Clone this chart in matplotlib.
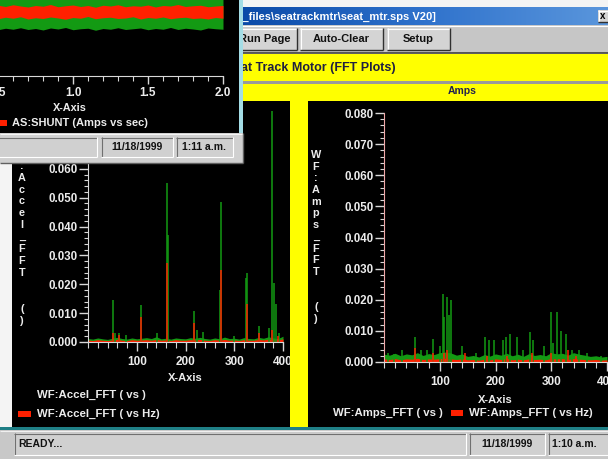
import matplotlib
matplotlib.use("Agg")
import matplotlib.pyplot as plt
from matplotlib.patches import Rectangle
from matplotlib.ticker import MultipleLocator, FixedLocator, FormatStrFormatter
from matplotlib.colors import LinearSegmentedColormap
import numpy as np

plt.rcParams['font.family'] = ['Liberation Sans', 'DejaVu Sans']
plt.rcParams['font.weight'] = 'bold'

# ---------------- data ----------------
# top-left window: AS:SHUNT (Amps vs sec) band envelopes
shunt_t = [0.50, 0.55, 0.60, 0.65, 0.70, 0.75, 0.80, 0.85, 0.90, 0.95, 1.00,
           1.05, 1.10, 1.15, 1.20, 1.25, 1.30, 1.35, 1.40, 1.45, 1.50, 1.55,
           1.60, 1.65, 1.70, 1.75, 1.80, 1.85, 1.90, 1.95, 2.00]
shunt_green_hi = [2.6] * 31
shunt_green_lo = [-0.30, -0.18, -0.26, -0.14, -0.28, -0.20, -0.32, -0.16, -0.24, -0.12,
                  -0.30, -0.22, -0.18, -0.34, -0.20, -0.26, -0.14, -0.28, -0.22, -0.16,
                  -0.30, -0.20, -0.26, -0.12, -0.28, -0.18, -0.24, -0.32, -0.16, -0.22, -0.26]
shunt_red_lo = [0.58, 0.70, 0.62, 0.74, 0.56, 0.66, 0.60, 0.72, 0.64, 0.54, 0.68,
                0.62, 0.76, 0.58, 0.66, 0.70, 0.60, 0.64, 0.74, 0.56, 0.68, 0.62,
                0.72, 0.58, 0.66, 0.70, 0.60, 0.64, 0.56, 0.68, 0.62]
shunt_red_hi = [1.66, 1.56, 1.70, 1.60, 1.52, 1.64, 1.58, 1.72, 1.54, 1.62, 1.68,
                1.56, 1.64, 1.50, 1.66, 1.60, 1.70, 1.54, 1.62, 1.58, 1.68, 1.52,
                1.64, 1.60, 1.72, 1.56, 1.62, 1.66, 1.54, 1.60, 1.64]
shunt_xticks = [0.5, 1.0, 1.5, 2.0]

# FFT noise floors (every 10 Hz)
floor_hz = [0, 10, 20, 30, 40, 50, 60, 70, 80, 90, 100, 110, 120, 130, 140, 150, 160,
            170, 180, 190, 200, 210, 220, 230, 240, 250, 260, 270, 280, 290, 300, 310,
            320, 330, 340, 350, 360, 370, 380, 390, 400]
accel_green_floor = [0.0012, 0.0010, 0.0014, 0.0011, 0.0009, 0.0013, 0.0016, 0.0012, 0.0010,
                     0.0014, 0.0011, 0.0013, 0.0015, 0.0012, 0.0018, 0.0011, 0.0013, 0.0010,
                     0.0014, 0.0012, 0.0011, 0.0015, 0.0013, 0.0016, 0.0012, 0.0010, 0.0014,
                     0.0011, 0.0017, 0.0012, 0.0013, 0.0010, 0.0015, 0.0012, 0.0011, 0.0016,
                     0.0013, 0.0018, 0.0014, 0.0012, 0.0020]
accel_red_floor = [0.0007, 0.0005, 0.0008, 0.0006, 0.0005, 0.0007, 0.0009, 0.0006, 0.0005,
                   0.0008, 0.0006, 0.0007, 0.0008, 0.0006, 0.0009, 0.0006, 0.0007, 0.0005,
                   0.0008, 0.0006, 0.0006, 0.0008, 0.0007, 0.0009, 0.0006, 0.0005, 0.0008,
                   0.0006, 0.0009, 0.0006, 0.0007, 0.0005, 0.0008, 0.0006, 0.0006, 0.0009,
                   0.0007, 0.0010, 0.0008, 0.0007, 0.0011]
accel_green_spike_hz = [51, 56, 64, 78, 108, 141, 162, 164, 217, 224, 236, 270, 272, 300,
                        324, 327, 351, 372, 377, 382, 386, 392]
accel_green_spike_val = [0.0146, 0.0030, 0.0030, 0.0025, 0.0128, 0.0032, 0.0552, 0.0370,
                         0.0108, 0.0040, 0.0035, 0.0180, 0.0486, 0.0020, 0.0220, 0.0240,
                         0.0055, 0.0050, 0.0850, 0.0205, 0.0130, 0.0030]
accel_red_spike_hz = [51, 64, 108, 162, 217, 272, 327, 351, 378, 390]
accel_red_spike_val = [0.0030, 0.0025, 0.0087, 0.0274, 0.0066, 0.0250, 0.0130, 0.0030,
                       0.0040, 0.0020]

amps_green_floor = [0.0025, 0.0022, 0.0028, 0.0020, 0.0026, 0.0023, 0.0030, 0.0021, 0.0027,
                    0.0024, 0.0030, 0.0032, 0.0029, 0.0022, 0.0026, 0.0018, 0.0021, 0.0016,
                    0.0024, 0.0019, 0.0026, 0.0022, 0.0028, 0.0020, 0.0025, 0.0018, 0.0027,
                    0.0021, 0.0024, 0.0020, 0.0030, 0.0026, 0.0028, 0.0022, 0.0030, 0.0025,
                    0.0022, 0.0018, 0.0020, 0.0016, 0.0018]
amps_red_floor = [0.0010, 0.0008, 0.0011, 0.0007, 0.0010, 0.0009, 0.0012, 0.0008, 0.0010,
                  0.0009, 0.0011, 0.0012, 0.0010, 0.0008, 0.0010, 0.0007, 0.0008, 0.0006,
                  0.0009, 0.0007, 0.0010, 0.0008, 0.0011, 0.0007, 0.0009, 0.0007, 0.0010,
                  0.0008, 0.0009, 0.0007, 0.0011, 0.0010, 0.0011, 0.0008, 0.0011, 0.0009,
                  0.0008, 0.0007, 0.0008, 0.0006, 0.0007]
amps_green_spike_hz = [8, 18, 32, 55, 66, 78, 87, 100, 105, 108, 113, 117, 120, 140, 165,
                       182, 188, 198, 213, 219, 226, 238, 250, 261, 267, 287, 300, 304, 311,
                       317, 326, 338, 350, 365, 389]
amps_green_spike_val = [0.0030, 0.0025, 0.0040, 0.0080, 0.0040, 0.0040, 0.0075, 0.0050,
                        0.0220, 0.0145, 0.0210, 0.0150, 0.0200, 0.0050, 0.0030, 0.0080,
                        0.0070, 0.0070, 0.0070, 0.0080, 0.0090, 0.0080, 0.0040, 0.0095,
                        0.0070, 0.0050, 0.0160, 0.0060, 0.0160, 0.0100, 0.0090, 0.0040,
                        0.0040, 0.0030, 0.0020]
amps_red_spike_hz = [55, 88, 108, 113, 145, 185, 220, 265, 300, 330, 345]
amps_red_spike_val = [0.0045, 0.0030, 0.0030, 0.0040, 0.0030, 0.0020, 0.0020, 0.0030,
                      0.0030, 0.0040, 0.0020]

fft_yticks = [0.000, 0.010, 0.020, 0.030, 0.040, 0.050, 0.060, 0.070, 0.080]
fft_xticks = [100, 200, 300, 400]

GREEN = '#139a13'
RED = '#ff2000'
TXT = '#ececec'

# ---------------- figure ----------------
W, H = 608, 459
fig = plt.figure(figsize=(W / 100, H / 100), dpi=100)
fig.patch.set_facecolor('#f4f4f4')


def px_axes(x0, y0, x1, y1, z):
    return fig.add_axes([x0 / W, 1 - y1 / H, (x1 - x0) / W, (y1 - y0) / H], zorder=z)


def overlay(z):
    ax = fig.add_axes([0, 0, 1, 1], zorder=z)
    ax.set_xlim(0, W)
    ax.set_ylim(H, 0)
    ax.axis('off')
    return ax


def box(ax, x0, y0, x1, y1, color):
    ax.add_patch(Rectangle((x0, y0), x1 - x0, y1 - y0, facecolor=color,
                           edgecolor='none', lw=0))


def hline(ax, x0, x1, y, color, lw=0.8):
    ax.plot([x0, x1], [y, y], color=color, lw=lw, solid_capstyle='butt')


def vline(ax, x, y0, y1, color, lw=0.8):
    ax.plot([x, x], [y0, y1], color=color, lw=lw, solid_capstyle='butt')


def sunken(ax, x0, y0, x1, y1, face='#d0d0d0'):
    box(ax, x0, y0, x1, y1, face)
    hline(ax, x0, x1, y0 + 0.5, '#707070')
    vline(ax, x0 + 0.5, y0, y1, '#707070')
    hline(ax, x0, x1, y1 - 0.5, '#ffffff')
    vline(ax, x1 - 0.5, y0, y1, '#ffffff')


def raised(ax, x0, y0, x1, y1, face='#d4d4d4'):
    box(ax, x0, y0, x1, y1, face)
    hline(ax, x0, x1, y0 + 0.5, '#ffffff')
    vline(ax, x0 + 0.5, y0, y1, '#ffffff')
    hline(ax, x0, x1, y1 - 0.5, '#303030', 1.0)
    vline(ax, x1 - 0.5, y0, y1, '#303030', 1.0)


# ---------- background (right window) ----------
bg = overlay(0)
cmap = LinearSegmentedColormap.from_list('tb', ['#0b4aa8', '#2f72cc', '#5a96dc'])
bg.imshow(np.linspace(0, 1, 256).reshape(1, -1), cmap=cmap, aspect='auto',
          extent=(240, 608, 25, 7), zorder=1)
bg.set_xlim(0, W)
bg.set_ylim(H, 0)
bg.text(238, 16.5, r"r_files\seatrackmtr\seat_mtr.sps V20]", color='white',
        fontsize=8, ha='left', va='center', zorder=3)
raised(bg, 598, 10, 610, 22)
bg.text(603, 16, 'x', color='black', fontsize=7, ha='center', va='center')
box(bg, 240, 25, 608, 53, '#c6c6c6')
hline(bg, 240, 608, 26, '#ffffff')
hline(bg, 240, 608, 52.5, '#404040', 1.2)
for (x0, x1, lab) in [(233, 297, 'Run Page'), (300, 383, 'Auto-Clear'),
                      (387, 450, 'Setup')]:
    raised(bg, x0, 28, x1, 50)
    bg.text((x0 + x1) / 2, 39.5, lab, fontsize=8, color='#111111',
            ha='center', va='center')
box(bg, 240, 54, 608, 427, '#ffff00')
box(bg, 240, 80.5, 608, 83.5, '#9a9a9a')
bg.text(241, 68, 'at Track Motor (FFT Plots)', fontsize=9, color='#202040',
        ha='left', va='center')
bg.text(462, 91.5, 'Amps', fontsize=7.5, color='#202050', ha='center', va='center')
box(bg, 12, 101, 290, 427, '#000000')
box(bg, 308, 101, 608, 427, '#000000')
box(bg, 0, 426.5, 608, 429.5, '#1f7f86')
box(bg, 0, 429.5, 608, 459, '#c8c8c8')
hline(bg, 0, 608, 430.5, '#f0f0f0')
sunken(bg, 14, 433, 466, 455)
sunken(bg, 469, 433, 545, 455)
sunken(bg, 548, 433, 612, 455)
bg.text(18, 444, 'READY...', fontsize=7.5, color='#111111',
        ha='left', va='center')
bg.text(507, 444, '11/18/1999', fontsize=7.5, color='#111111',
        ha='center', va='center')
bg.text(552, 444, '1:10 a.m.', fontsize=7.5, color='#111111',
        ha='left', va='center')


# ---------- FFT charts ----------
def style_fft(ax, spine_left):
    ax.set_facecolor('none')
    ax.set_xlim(0, 400)
    ax.set_ylim(0, 0.08)
    for s in ('top', 'right'):
        ax.spines[s].set_visible(False)
    ax.spines['bottom'].set_color('#d8d8d8')
    ax.spines['left'].set_color(spine_left)
    ax.yaxis.set_major_locator(FixedLocator(fft_yticks))
    ax.yaxis.set_major_formatter(FormatStrFormatter('%.3f'))
    ax.yaxis.set_minor_locator(MultipleLocator(0.002))
    ax.xaxis.set_major_locator(FixedLocator(fft_xticks))
    ax.xaxis.set_minor_locator(MultipleLocator(20))
    ax.tick_params(axis='y', which='major', length=6.5, width=1, color='#d8d8d8',
                   labelcolor=TXT, labelsize=8.3, pad=1.2, direction='out')
    ax.tick_params(axis='y', which='minor', length=3, width=0.8, color='#d8d8d8',
                   direction='out')
    ax.tick_params(axis='x', which='major', length=6.5, width=1, color='#d8d8d8',
                   labelcolor=TXT, labelsize=8.5, pad=3.5, direction='out')
    ax.tick_params(axis='x', which='minor', length=4, width=0.8, color='#d8d8d8',
                   direction='out')


axL = px_axes(88, 111, 283, 342, 2)
style_fft(axL, '#d8d8d8')
axL.fill_between(floor_hz, 0, accel_green_floor, color=GREEN, lw=0)
axL.vlines(accel_green_spike_hz, 0, accel_green_spike_val, color=GREEN, lw=1.1)
axL.fill_between(floor_hz, 0, accel_red_floor, color=RED, lw=0)
axL.vlines(accel_red_spike_hz, 0, accel_red_spike_val, color=RED, lw=1.1)

axR = px_axes(384, 113, 607, 362, 2)
style_fft(axR, '#f0a8a8')
axR.fill_between(floor_hz, 0, amps_green_floor, color=GREEN, lw=0)
axR.vlines(amps_green_spike_hz, 0, amps_green_spike_val, color=GREEN, lw=1.1)
axR.fill_between(floor_hz, 0, amps_red_floor, color=RED, lw=0)
axR.vlines(amps_red_spike_hz, 0, amps_red_spike_val, color=RED, lw=1.1)

# ---------- labels / legends over charts ----------
mid = overlay(3)
box(mid, 290, 100, 308, 427, '#ffff00')
for i, ch in enumerate("WF:Accel_FFT  ()"):
    mid.text(22, 142 + i * 11.9, ch, color=TXT, fontsize=7.8, ha='center', va='center')
for i, ch in enumerate("WF:Amps_FFT  ()"):
    mid.text(316, 155 + i * 11.7, ch, color=TXT, fontsize=7.8, ha='center', va='center')
mid.text(185, 378, 'X-Axis', color=TXT, fontsize=8, ha='center', va='center')
mid.text(495, 400, 'X-Axis', color=TXT, fontsize=8, ha='center', va='center')
mid.text(37, 395, 'WF:Accel_FFT ( vs )', color=TXT, fontsize=8.2, ha='left', va='center')
box(mid, 18, 411, 31, 417, RED)
mid.text(37, 414, 'WF:Accel_FFT ( vs Hz)', color=TXT, fontsize=8.2, ha='left', va='center')
mid.text(333, 413, 'WF:Amps_FFT ( vs )', color=TXT, fontsize=8.2, ha='left', va='center')
box(mid, 451, 410, 463, 416, RED)
mid.text(469, 413, 'WF:Amps_FFT ( vs Hz)', color=TXT, fontsize=8.2, ha='left', va='center')

# ---------- top-left window ----------
win = overlay(5)
box(win, 0, 0, 239, 133, '#000000')
box(win, 239, 0, 243, 133, '#a4dde6')
box(win, 0, 133, 243, 163, '#d0d0d0')
hline(win, 0, 243, 133.5, '#f4f4f4')
hline(win, 0, 243, 162.5, '#606060', 1.0)
vline(win, 242.5, 133, 163, '#606060', 1.0)
sunken(win, -4, 137, 97, 157)
sunken(win, 101, 137, 173, 157)
sunken(win, 176, 137, 233, 157)
win.text(137, 147, '11/18/1999', fontsize=7.5, color='#111111',
         ha='center', va='center')
win.text(204, 147, '1:11 a.m.', fontsize=7.5, color='#111111',
         ha='center', va='center')
box(win, 0, 120, 7, 126, RED)
win.text(12, 123, 'AS:SHUNT (Amps vs sec)', color=TXT, fontsize=8,
         ha='left', va='center')
win.text(70, 108, 'X-Axis', color=TXT, fontsize=7.8, ha='center', va='center')

axT = px_axes(-77, -24, 223, 76, 6)
axT.set_facecolor('none')
axT.set_xlim(0, 2.0)
axT.set_ylim(-4, 4)
for s in ('top', 'right', 'left'):
    axT.spines[s].set_visible(False)
axT.spines['bottom'].set_color('#d8d8d8')
axT.set_yticks([])
axT.xaxis.set_major_locator(FixedLocator(shunt_xticks))
axT.xaxis.set_major_formatter(FormatStrFormatter('%.1f'))
axT.xaxis.set_minor_locator(MultipleLocator(0.1))
axT.tick_params(axis='x', which='major', length=6, width=1, color='#d8d8d8',
                labelcolor=TXT, labelsize=8.5, pad=2.0)
axT.tick_params(axis='x', which='minor', length=3.5, width=0.8, color='#d8d8d8')
axT.fill_between(shunt_t, shunt_green_lo, shunt_green_hi, color=GREEN, lw=0)
axT.fill_between(shunt_t, shunt_red_lo, shunt_red_hi, color=RED, lw=0)

fig.savefig('out.png', dpi=100, facecolor=fig.get_facecolor())
